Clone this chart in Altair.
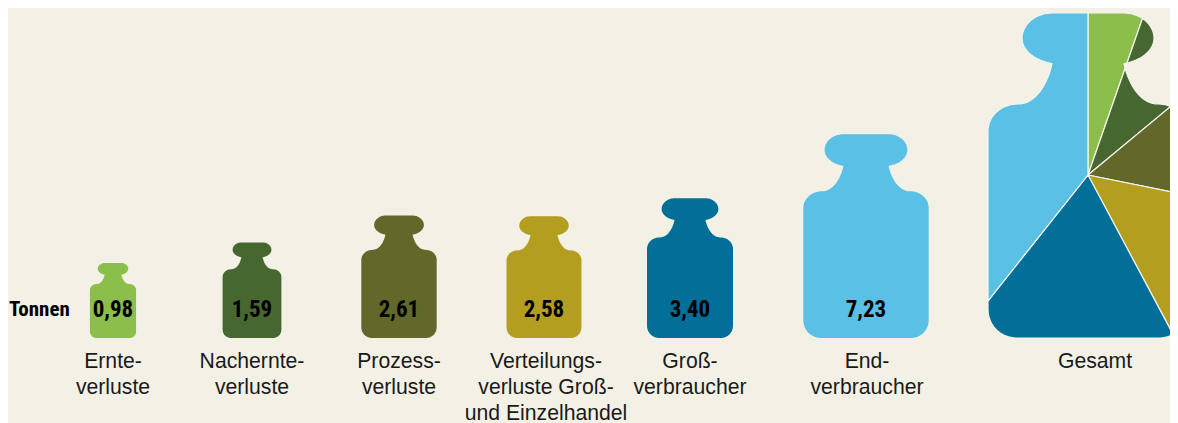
import math
import altair as alt
import pandas as pd

categories = ["Ernte-\nverluste", "Nachernte-\nverluste", "Prozess-\nverluste",
              "Verteilungs-\nverluste Groß-\nund Einzelhandel", "Groß-\nverbraucher", "End-\nverbraucher"]
tonnes = [0.98, 1.59, 2.61, 2.58, 3.40, 7.23]
value_labels = ["0,98", "1,59", "2,61", "2,58", "3,40", "7,23"]
colours = ["#8BBE4B", "#466830", "#61682A", "#B39E20", "#026F98", "#5BC0E6"]
centres = [105, 244, 391, 536, 682, 858]
label_centres = [105, 244, 391, 538, 682, 859]
total_label = "Gesamt"
total_centre = 1080
total_label_centre = 1087
unit_label = "Tonnen"
BG = "#F3F1E6"
BASE = 330
total = sum(tonnes)

half = [
    ((0, 3.25), (0, 3.25), (-0.36, 3.25), (-0.36, 3.25)),
    ((-0.36, 3.25), (-0.53, 3.25), (-0.66, 3.13), (-0.66, 3.0)),
    ((-0.66, 3.0), (-0.66, 2.87), (-0.52, 2.77), (-0.36, 2.745)),
    ((-0.36, 2.745), (-0.40, 2.55), (-0.52, 2.34), (-0.70, 2.34)),
    ((-0.70, 2.34), (-0.87, 2.34), (-1.0, 2.22), (-1.0, 2.07)),
    ((-1.0, 2.07), (-1.0, 2.07), (-1.0, 0.29), (-1.0, 0.29)),
    ((-1.0, 0.29), (-1.0, 0.12), (-0.87, 0.0), (-0.71, 0.0)),
    ((-0.71, 0.0), (-0.71, 0.0), (0, 0), (0, 0)),
]


def sample(b, n=20):
    pts = []
    for i in range(n):
        t = i / n
        u = 1 - t
        pts.append(tuple(u**3 * b[0][k] + 3 * u * u * t * b[1][k] + 3 * u * t * t * b[2][k] + t**3 * b[3][k]
                         for k in (0, 1)))
    return pts


left = [p for b in half for p in sample(b)]
right = [(-x, y) for x, y in reversed(left)]
outline = right + left


def to_path(pts):
    return "M" + "L".join(f"{x:.4f},{-y:.4f}" for x, y in pts) + "Z"


def clip(pts, inside):
    out = []
    for i, p in enumerate(pts):
        q = pts[(i + 1) % len(pts)]
        dp, dq = inside(p), inside(q)
        if dp >= 0:
            out.append(p)
        if dp * dq < 0:
            t = dp / (dp - dq)
            out.append((p[0] + t * (q[0] - p[0]), p[1] + t * (q[1] - p[1])))
    return out


HUB = (0.0, 1.63)


def sector(a0, a1):
    n0 = (math.cos(a0), -math.sin(a0))
    n1 = (math.cos(a1), -math.sin(a1))
    pts = clip(outline, lambda p: (p[0] - HUB[0]) * n0[0] + (p[1] - HUB[1]) * n0[1])
    pts = clip(pts, lambda p: -((p[0] - HUB[0]) * n1[0] + (p[1] - HUB[1]) * n1[1]))
    return to_path(pts)


sectors = []
acc = 0.0
for value, col in zip(tonnes, colours):
    a0 = acc / total * 2 * math.pi
    acc += value
    a1 = acc / total * 2 * math.pi
    sectors.append({"x": total_centre, "y": BASE, "amount": total, "path": sector(a0, a1), "colour": col})

weights = pd.DataFrame({"x": centres, "y": BASE, "amount": tonnes, "colour": colours,
                        "path": to_path(outline), "label": value_labels, "cat": categories,
                        "lx": label_centres})
slices = pd.DataFrame(sectors)
cat_text = pd.DataFrame({"lx": label_centres + [total_label_centre], "cat": categories + [total_label]})
cat_text["lines"] = cat_text["cat"].str.split("\n")
unit = pd.DataFrame({"x": [1], "label": [unit_label]})

XS = alt.Scale(domain=[0, 1162], range=[0, 1162])
X = alt.X("x:Q", scale=XS, axis=None)
Y = alt.Y("y:Q", scale=alt.Scale(domain=[0, 415], range=[0, 415]), axis=None)
SIZE = alt.Size("amount:Q", scale=alt.Scale(domain=[0, total], range=[0, 40000]), legend=None)
COL = alt.Color("colour:N", scale=None)
SHAPE = alt.Shape("path:N", scale=None)
NUM_FONT = "Roboto Condensed"

w = alt.Chart(weights).mark_point(filled=True, opacity=1).encode(x=X, y=Y, size=SIZE, color=COL, shape=SHAPE)
s = alt.Chart(slices).mark_point(filled=True, opacity=1, stroke="#F6F5EE", strokeWidth=1.2, strokeJoin="round").encode(
    x=X, y=Y, size=SIZE, fill=alt.Fill("colour:N", scale=None), shape=SHAPE)
vals = alt.Chart(weights).mark_text(font=NUM_FONT, fontWeight="bold", fontSize=23,
                                    baseline="alphabetic", align="center", color="#000000").encode(
    x=X, y=alt.value(308.5), text="label:N")
un = alt.Chart(unit).mark_text(font=NUM_FONT, fontWeight="bold", fontSize=21,
                               baseline="alphabetic", align="left", color="#000000").encode(
    x=X, y=alt.value(308), text="label:N")
cats = alt.Chart(cat_text).mark_text(font="Liberation Sans", fontSize=21.2, baseline="alphabetic", align="center",
                                     lineHeight=26, color="#1A1A1A").encode(
    x=alt.X("lx:Q", scale=XS, axis=None),
    y=alt.value(359.5), text="lines:N")

chart = alt.layer(w, s, vals, un, cats).properties(
    width=1162, height=415, background=BG, padding=0,
    autosize=alt.AutoSizeParams(type="none")
).configure_view(stroke=None)
chart.save("out.html", embed_options={"renderer": "svg", "actions": False})
